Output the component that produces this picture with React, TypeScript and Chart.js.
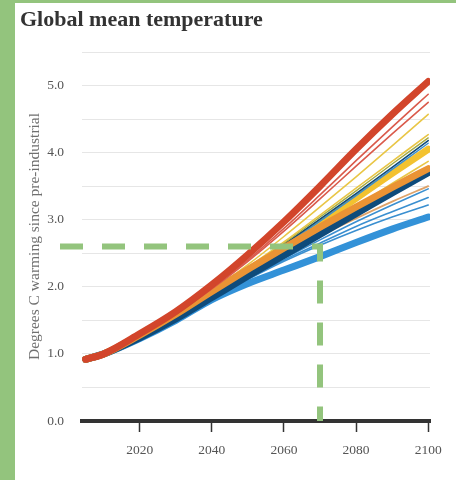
import React, { useEffect, useRef } from "react";
import { Chart, registerables } from "chart.js";

Chart.register(...registerables);

// Projection years shared by every scenario run
const years = [2005, 2010, 2020, 2030, 2040, 2050, 2060, 2070, 2080, 2090, 2100];

// Warming (degrees C above pre-industrial) per model run
const redHigh = [0.92, 1.0, 1.3, 1.63, 2.03, 2.48, 2.97, 3.5, 4.05, 4.57, 5.06];
const redThinA = [0.92, 1.0, 1.29, 1.6, 1.98, 2.4, 2.87, 3.37, 3.88, 4.38, 4.87];
const redThinB = [0.92, 1.0, 1.29, 1.6, 1.97, 2.38, 2.83, 3.31, 3.8, 4.28, 4.75];
const yellowThinA = [0.92, 1.0, 1.27, 1.58, 1.94, 2.33, 2.75, 3.19, 3.64, 4.1, 4.57];
const yellowThinB = [0.92, 1.0, 1.27, 1.57, 1.92, 2.29, 2.67, 3.07, 3.47, 3.87, 4.27];
const oliveThin = [0.92, 1.0, 1.27, 1.57, 1.91, 2.27, 2.65, 3.04, 3.43, 3.83, 4.22];
const navyThin = [0.92, 1.0, 1.26, 1.56, 1.9, 2.26, 2.63, 3.01, 3.39, 3.78, 4.18];
const blueThinA = [0.92, 1.0, 1.26, 1.56, 1.89, 2.25, 2.61, 2.98, 3.36, 3.75, 4.14];
const yellowMid = [0.92, 1.0, 1.26, 1.56, 1.9, 2.24, 2.59, 2.95, 3.32, 3.69, 4.05];
const yellowThinC = [0.92, 1.0, 1.26, 1.55, 1.87, 2.2, 2.54, 2.87, 3.2, 3.54, 3.87];
const orangeMid = [0.92, 1.0, 1.28, 1.59, 1.93, 2.26, 2.58, 2.89, 3.19, 3.48, 3.76];
const navyMid = [0.92, 1.0, 1.24, 1.52, 1.84, 2.16, 2.47, 2.78, 3.09, 3.4, 3.7];
const tanThin = [0.92, 1.0, 1.26, 1.55, 1.87, 2.18, 2.48, 2.76, 3.02, 3.27, 3.5];
const blueThinB = [0.92, 1.0, 1.25, 1.53, 1.84, 2.14, 2.42, 2.7, 2.97, 3.22, 3.46];
const blueThinC = [0.92, 1.0, 1.25, 1.53, 1.83, 2.12, 2.4, 2.65, 2.9, 3.12, 3.33];
const blueThinD = [0.92, 1.0, 1.24, 1.52, 1.82, 2.11, 2.38, 2.62, 2.84, 3.04, 3.22];
const blueLow = [0.92, 1.0, 1.23, 1.5, 1.81, 2.05, 2.25, 2.45, 2.66, 2.86, 3.04];

// Axis ticks
const xTickYears = [2020, 2040, 2060, 2080, 2100];
const yGridValues = [0, 0.5, 1, 1.5, 2, 2.5, 3, 3.5, 4, 4.5, 5, 5.5];

// Highlighted crossing: year and warming level
const markerYear = 2070;
const markerTemp = 2.6;

const RED = "#d2452b";
const RED_THIN = "#da5a4b";
const YELLOW = "#f3c22f";
const YELLOW_THIN = "#e9c646";
const OLIVE = "#a2a842";
const ORANGE = "#ea9334";
const TAN = "#dea268";
const NAVY = "#0e4b7b";
const BLUE = "#3392d8";
const BLUE_THIN = "#3a8fd0";
const GREEN = "#93c47d";

type Run = { data: number[]; color: string; width: number };

// First entry is painted on top
const runs: Run[] = [
  { data: redHigh, color: RED, width: 7 },
  { data: redThinA, color: RED_THIN, width: 1.6 },
  { data: redThinB, color: RED_THIN, width: 1.6 },
  { data: orangeMid, color: ORANGE, width: 7 },
  { data: navyMid, color: NAVY, width: 7 },
  { data: yellowThinA, color: YELLOW_THIN, width: 1.6 },
  { data: yellowThinB, color: YELLOW_THIN, width: 1.6 },
  { data: oliveThin, color: OLIVE, width: 1.4 },
  { data: navyThin, color: NAVY, width: 1.6 },
  { data: blueThinA, color: BLUE_THIN, width: 1.4 },
  { data: yellowMid, color: YELLOW, width: 7 },
  { data: yellowThinC, color: YELLOW_THIN, width: 1.6 },
  { data: tanThin, color: TAN, width: 1.8 },
  { data: blueThinB, color: BLUE_THIN, width: 1.6 },
  { data: blueThinC, color: BLUE_THIN, width: 1.6 },
  { data: blueThinD, color: BLUE_THIN, width: 1.6 },
  { data: blueLow, color: BLUE, width: 7 },
];

const SERIF = "'Liberation Serif', 'Times New Roman', serif";

const markerPlugin = {
  id: "crossingMarker",
  afterDatasetsDraw(chart: any) {
    const { ctx, chartArea, scales } = chart;
    const px = scales.x.getPixelForValue(markerYear);
    const py = scales.y.getPixelForValue(markerTemp);
    const pBase = scales.y.getPixelForValue(0);
    ctx.save();
    ctx.strokeStyle = GREEN;
    ctx.lineWidth = 6;
    ctx.setLineDash([23, 19]);
    ctx.lineJoin = "miter";
    ctx.beginPath();
    ctx.moveTo(chartArea.left - 22, py);
    ctx.lineTo(px, py);
    ctx.lineTo(px, pBase);
    ctx.stroke();
    ctx.restore();
  },
};

export default function App() {
  const canvasRef = useRef<HTMLCanvasElement | null>(null);

  useEffect(() => {
    const canvas = canvasRef.current;
    if (!canvas) return;
    const chart = new Chart(canvas, {
      type: "line",
      data: {
        datasets: runs.map((r, i) => ({
          label: `run ${i + 1}`,
          data: years.map((yr, k) => ({ x: yr, y: r.data[k] })),
          borderColor: r.color,
          borderWidth: r.width,
          borderCapStyle: "round",
          borderJoinStyle: "round",
          pointRadius: 0,
          fill: false,
          cubicInterpolationMode: "monotone",
        })),
      },
      options: {
        animation: false,
        responsive: false,
        maintainAspectRatio: false,
        layout: { padding: { top: 49, right: 26, left: 0, bottom: 0 } },
        plugins: {
          legend: { display: false },
          title: { display: false },
          tooltip: { enabled: false },
        },
        scales: {
          x: {
            type: "linear",
            min: 2004,
            max: 2100.5,
            afterFit: (s: any) => {
              s.height = 59;
            },
            afterBuildTicks: (s: any) => {
              s.ticks = xTickYears.map((v) => ({ value: v }));
            },
            border: { display: true, color: "#333333", width: 4 },
            grid: {
              display: true,
              drawOnChartArea: false,
              drawTicks: true,
              tickLength: 11,
              tickColor: "#333333",
              tickWidth: 1.5,
            },
            ticks: {
              padding: 10,
              color: "#555555",
              font: { family: SERIF, size: 13.5 },
              callback: (v: any) => String(v),
            },
          },
          y: {
            type: "linear",
            min: 0,
            max: 5.5,
            afterFit: (s: any) => {
              s.width = 67;
            },
            afterBuildTicks: (s: any) => {
              s.ticks = yGridValues.map((v) => ({ value: v }));
            },
            border: { display: false },
            grid: {
              color: "#e6e6e6",
              lineWidth: 1,
              drawTicks: false,
            },
            ticks: {
              padding: 18,
              color: "#555555",
              font: { family: SERIF, size: 13.5 },
              callback: (v: any) => (Number.isInteger(Number(v)) ? Number(v).toFixed(1) : ""),
            },
            title: {
              display: true,
              text: "Degrees C warming since pre-industrial",
              color: "#707070",
              font: { family: SERIF, size: 15.5 },
              padding: { top: 11, bottom: 0 },
            },
          },
        },
      },
      plugins: [markerPlugin],
    } as any);
    return () => chart.destroy();
  }, []);

  return (
    <div
      style={{
        position: "absolute",
        left: 0,
        top: 0,
        width: 456,
        height: 480,
        background: GREEN,
        overflow: "hidden",
      }}
    >
      <div
        style={{
          position: "absolute",
          left: 15,
          top: 3,
          width: 441,
          height: 477,
          background: "#ffffff",
        }}
      >
        <canvas ref={canvasRef} width={441} height={477} style={{ display: "block" }} />
        <div
          style={{
            position: "absolute",
            left: 5,
            top: 5,
            fontFamily: SERIF,
            fontWeight: "bold",
            fontSize: 22,
            lineHeight: "22px",
            color: "#333333",
            whiteSpace: "nowrap",
          }}
        >
          Global mean temperature
        </div>
      </div>
    </div>
  );
}
